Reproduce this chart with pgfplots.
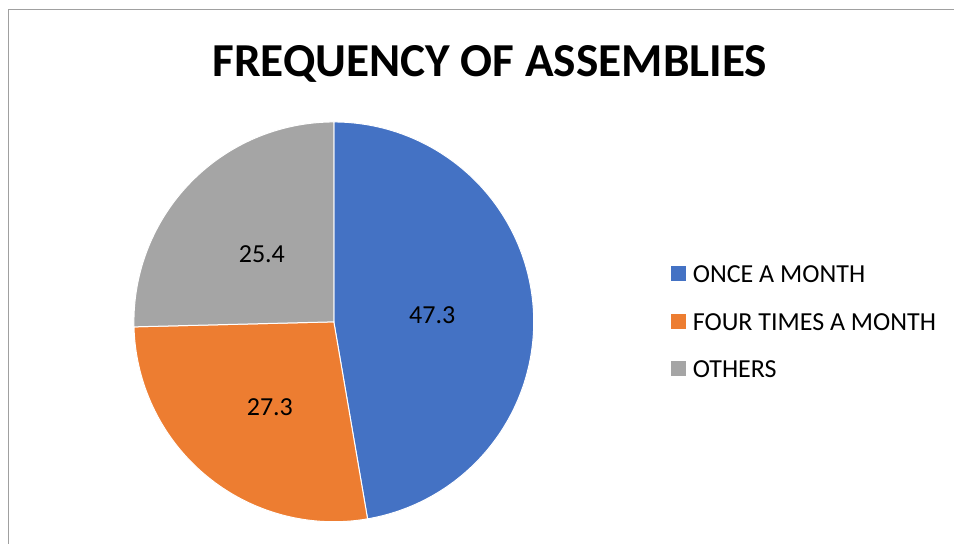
\documentclass[border=0pt]{standalone}
\usepackage{pgfplots}
\pgfplotsset{compat=1.18}
\usepackage{fontspec}
\setmainfont{Carlito}
\definecolor{sliceblue}{HTML}{4472C4}
\definecolor{sliceorange}{HTML}{ED7D31}
\definecolor{slicegray}{HTML}{A5A5A5}
\definecolor{chartframe}{HTML}{A0A0A0}
% shares of each answer (per cent)
\def\vA{47.3}
\def\vB{27.3}
\def\vC{25.4}
% slice boundaries, clockwise from twelve o'clock
\pgfmathsetmacro\aA{90-3.6*\vA}
\pgfmathsetmacro\aB{\aA-3.6*\vB}
\pgfmathsetmacro\aC{\aB-3.6*\vC}
\begin{document}
\begin{tikzpicture}
\path (0,0) rectangle (954pt,544pt);
\begin{axis}[
  at={(0,0)}, anchor=south west,
  scale only axis, width=954pt, height=544pt,
  xmin=0, xmax=954, ymin=0, ymax=544,
  y dir=reverse,
  hide axis, clip=false,
  legend style={
    at={(axis cs:671,265.5)}, anchor=north west,
    draw=none, fill=none, inner sep=0pt,
    font=\fontsize{26}{31}\selectfont,
    row sep=30.5pt, column sep=7pt,
    nodes={inner sep=0pt, text height=17pt, text depth=0pt},
  },
  legend cell align=left,
  legend image code/.code={\fill[#1, draw=none] (0pt,-7pt) rectangle (15pt,8pt);},
]
\addplot[fill=sliceblue, draw=white, line width=1pt, domain=\aA:90, samples=120]
  ({334+200*cos(x)}, {322-200*sin(x)}) -- (axis cs:334,322) -- cycle;
\addlegendentry{ONCE A MONTH}
\addplot[fill=sliceorange, draw=white, line width=1pt, domain=\aB:\aA, samples=80]
  ({334+200*cos(x)}, {322-200*sin(x)}) -- (axis cs:334,322) -- cycle;
\addlegendentry{FOUR TIMES A MONTH}
\addplot[fill=slicegray, draw=white, line width=1pt, domain=\aC:\aB, samples=80]
  ({334+200*cos(x)}, {322-200*sin(x)}) -- (axis cs:334,322) -- cycle;
\addlegendentry{OTHERS}

% data labels
\begin{scope}[every node/.style={font=\fontsize{26}{31}\selectfont, text=black, inner sep=0pt}]
\node at (axis cs:432.5,315) {\vA};
\node at (axis cs:270,407) {\vB};
\node at (axis cs:262,254) {\vC};
\end{scope}

% title
\node[font=\fontsize{47.3}{54}\selectfont\bfseries, anchor=base, inner sep=0pt]
  at (axis cs:490,77) {FREQUENCY OF ASSEMBLIES};

% chart frame
\draw[chartframe, line width=1pt] (axis cs:9,544) -- (axis cs:9,10) -- (axis cs:954,10);
\end{axis}
\end{tikzpicture}
\end{document}
